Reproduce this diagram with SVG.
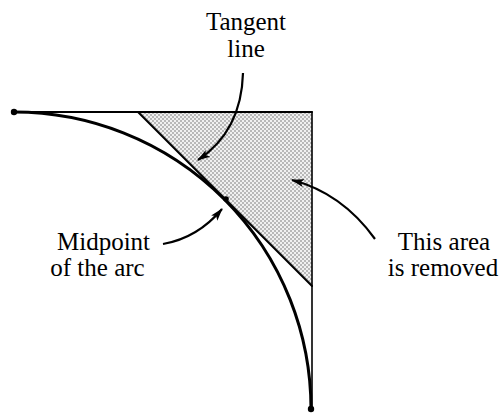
<svg xmlns="http://www.w3.org/2000/svg" width="504" height="413" viewBox="0 0 504 413">
<style>
text{font-family:"Liberation Serif","DejaVu Serif",serif;font-size:25px;fill:#000;text-anchor:middle}
.ln{fill:none;stroke:#000;stroke-linecap:round}
.arr{fill:none;stroke:#000;stroke-width:2.2;marker-end:url(#ah)}
</style>
<defs>
<pattern id="stip" width="4" height="4" patternUnits="userSpaceOnUse">
<rect width="4" height="4" fill="#f0f0f0"/>
<circle cx="1" cy="1" r="0.7" fill="#555"/>
<circle cx="3" cy="3" r="0.7" fill="#555"/>
</pattern>
<marker id="ah" markerWidth="14" markerHeight="10" refX="12" refY="5" orient="auto" markerUnits="userSpaceOnUse">
<path d="M0,1 L13,5 L0,9 L3,5 Z" fill="#000"/>
</marker>
</defs>
<rect width="504" height="413" fill="#fff"/>
<g id="removed-area">
<polygon points="138,112 312,112 312,286" fill="url(#stip)"/>
</g>
<g id="frame">
<line class="ln" x1="14" y1="112" x2="312" y2="112" stroke-width="2"/>
<line class="ln" x1="312" y1="112" x2="312" y2="409" stroke-width="1.6"/>
</g>
<g id="tangent">
<line class="ln" x1="138" y1="112" x2="312" y2="286" stroke-width="2"/>
</g>
<g id="arc">
<path class="ln" d="M14,112 A297,297 0 0 1 311,409" stroke-width="3"/>
<circle cx="14" cy="112" r="3.2" fill="#000"/>
<circle cx="311" cy="409" r="3.2" fill="#000"/>
<circle cx="226" cy="199" r="2.8" fill="#000"/>
</g>
<g id="connectors">
<path class="arr" d="M243,73 C242,110 228,140 198,160"/>
<path class="arr" d="M163,244 C186,240 206,228 222,209"/>
<path class="arr" d="M375,239 Q342,193 292,180"/>
</g>
<g id="label-tangent">
<text x="246" y="30">Tangent</text>
<text x="246" y="57">line</text>
</g>
<g id="label-midpoint">
<text x="103.5" y="250">Midpoint</text>
<text x="97.5" y="276">of the arc</text>
</g>
<g id="label-area">
<text x="444" y="250">This area</text>
<text x="443" y="276">is removed</text>
</g>
</svg>
